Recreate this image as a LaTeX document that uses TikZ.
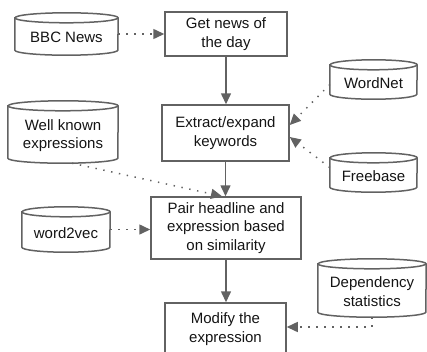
\documentclass[tikz,border=0pt]{standalone}
\usepackage{fontspec}
\setmainfont{Liberation Sans}
\usetikzlibrary{arrows.meta}
\definecolor{lc}{RGB}{98,98,98}
\definecolor{tc}{RGB}{20,20,20}
\tikzset{
  boxline/.style={draw=lc, line width=1.5pt},
  procbox/.style={boxline, rectangle, inner sep=0pt, align=center, text=tc,
    font=\fontsize{15}{18.5}\selectfont},
  dbshape/.style={rectangle, inner sep=0pt},
  dbtext/.style={inner sep=0pt, align=center, text=tc,
    font=\fontsize{15}{18.5}\selectfont},
  flow/.style={draw=lc, line width=1.5pt, -{Triangle[length=11pt,width=10pt]}},
  dotflow/.style={draw=lc, line width=1.5pt, dash pattern=on 1.4pt off 6.6pt,
    -{Triangle[length=11pt,width=10pt,fill=lc]}},
}
\newcommand{\dbnode}[6]{%
  \node[dbshape, minimum width=#4pt, minimum height=#5pt] (#1) at (#2pt,-#3pt) {};
  \draw[boxline] ([yshift=-5pt]#1.north west) -- ([yshift=5pt]#1.south west)
    arc[start angle=180, end angle=360, x radius=#4pt/2, y radius=5pt]
    -- ([yshift=-5pt]#1.north east)
    arc[start angle=0, end angle=180, x radius=#4pt/2, y radius=5pt] -- cycle;
  \draw[boxline] ([yshift=-5pt]#1.north west)
    arc[start angle=180, end angle=360, x radius=#4pt/2, y radius=5pt];
  \node[dbtext] (#1-label) at ([yshift=-3.5pt]#1.center) {#6};
}
\begin{document}
\begin{tikzpicture}[x=1pt,y=1pt]
\useasboundingbox (0,0) rectangle (427,-351);
% databases
\dbnode{bbc}{66.5}{34}{103}{42}{BBC News}
\dbnode{well}{63}{132}{110}{62}{Well known\\expressions}
\dbnode{wtv}{66}{229.5}{88}{45}{word2vec}
\dbnode{wordnet}{373.5}{79.5}{87}{39}{WordNet}
\dbnode{freebase}{373.5}{172.5}{87}{39}{Freebase}
\dbnode{dep}{372}{288}{108}{58}{Dependency\\statistics}
% process boxes
\node[procbox, minimum width=122pt, minimum height=44pt] (get) at (226,-34) {Get news of\\the day};
\node[procbox, minimum width=127pt, minimum height=56pt] (extract) at (225.5,-133) {Extract/expand\\keywords};
\node[procbox, minimum width=150pt, minimum height=62pt] (pair) at (226,-228) {Pair headline and\\expression based\\on similarity};
\node[procbox, minimum width=121pt, minimum height=52pt] (modify) at (225.5,-329) {Modify the\\expression};
% connectors
\draw[dotflow] (bbc.east) -- (get.west |- bbc.east);
\draw[flow] (get.south) -- (get.south |- extract.north);
\draw[dotflow] ([yshift=-5pt]wordnet.west) -- ([yshift=8pt]extract.east);
\draw[dotflow] ([yshift=5pt]freebase.west) -- ([yshift=-4pt]extract.east);
\draw[flow] (extract.south) -- (extract.south |- pair.north);
\draw[dotflow] ([xshift=9pt]well.south) -- ([xshift=-4pt]pair.north);
\draw[dotflow] (wtv.east) -- (pair.west |- wtv.east);
\draw[flow] (pair.south) -- (pair.south |- modify.north);
\draw[dotflow] (dep.south) |- ([yshift=2pt]modify.east);
\end{tikzpicture}
\end{document}
